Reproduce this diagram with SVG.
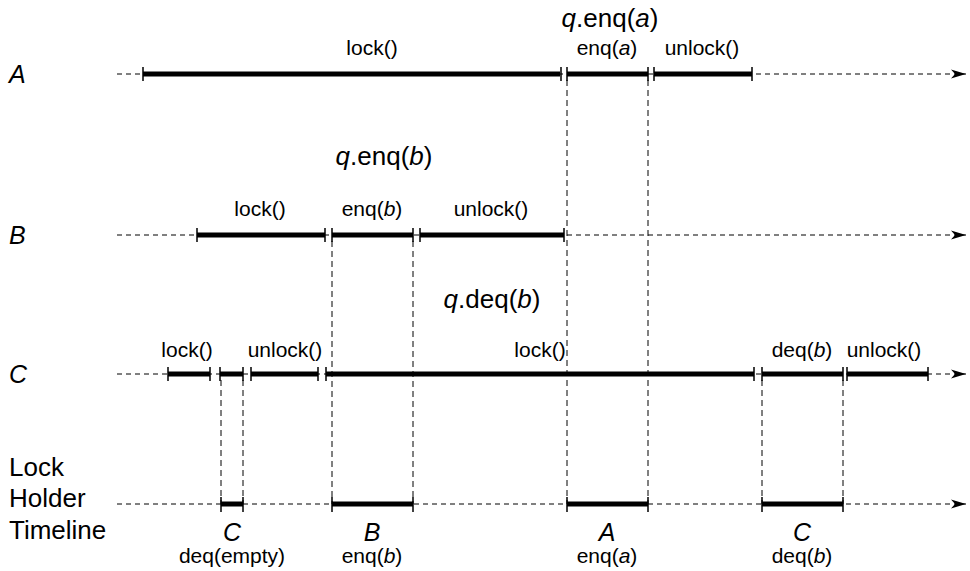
<svg xmlns="http://www.w3.org/2000/svg" width="970" height="571" viewBox="0 0 970 571">
<defs>
<marker id="arr" markerWidth="16" markerHeight="12" refX="15" refY="6" orient="auto" markerUnits="userSpaceOnUse">
<path d="M0,1.5 L15,6 L0,10.5 L4,6 z" fill="#000"/>
</marker>
<style>
text{font-family:"Liberation Sans",Arial,sans-serif;fill:#000}
.lbl{font-size:21px;text-anchor:middle}
.big{font-size:26px;text-anchor:middle}
.row{font-size:25px;font-style:italic}
.side{font-size:26px}
.bot{font-size:25px;font-style:italic;text-anchor:middle}
.base{stroke:#000;stroke-width:1;stroke-dasharray:5,4;fill:none}
.vd{stroke:#000;stroke-width:1;stroke-dasharray:6,4;fill:none}
.seg{stroke:#000;stroke-width:5;fill:none}
.tick{stroke:#000;stroke-width:1.5;fill:none}
</style>
</defs>
<g id="connectors">
<line class="base" x1="117" y1="74" x2="966" y2="74" marker-end="url(#arr)"/>
<line class="base" x1="117" y1="235" x2="966" y2="235" marker-end="url(#arr)"/>
<line class="base" x1="117" y1="374" x2="966" y2="374" marker-end="url(#arr)"/>
<line class="base" x1="117" y1="504" x2="966" y2="504" marker-end="url(#arr)"/>
<line class="vd" x1="567" y1="80" x2="567" y2="504"/>
<line class="vd" x1="648" y1="80" x2="648" y2="504"/>
<line class="vd" x1="332" y1="241" x2="332" y2="504"/>
<line class="vd" x1="413" y1="241" x2="413" y2="504"/>
<line class="vd" x1="221" y1="380" x2="221" y2="504"/>
<line class="vd" x1="243" y1="380" x2="243" y2="504"/>
<line class="vd" x1="762" y1="380" x2="762" y2="504"/>
<line class="vd" x1="843" y1="380" x2="843" y2="504"/>
</g>
<g id="rowA">
<text class="row" x="9" y="83">A</text>
<path class="seg" d="M143,74H560M567,74H648M654,74H752"/>
<path class="tick" d="M143,67V81M561,67V81M567,67V81M648,67V81M654,67V81M752,67V81"/>
<text class="lbl" x="372" y="55">lock()</text>
<text class="lbl" x="607" y="55">enq(<tspan font-style="italic">a</tspan>)</text>
<text class="lbl" x="702" y="55">unlock()</text>
<text class="big" x="610" y="27"><tspan font-style="italic">q</tspan>.enq(<tspan font-style="italic">a</tspan>)</text>
</g>
<g id="rowB">
<text class="row" x="9" y="244">B</text>
<path class="seg" d="M197,235H325M332,235H413M420,235H564"/>
<path class="tick" d="M197,228V242M325,228V242M332,228V242M413,228V242M420,228V242M564,228V242"/>
<text class="lbl" x="260" y="216">lock()</text>
<text class="lbl" x="372" y="216">enq(<tspan font-style="italic">b</tspan>)</text>
<text class="lbl" x="491" y="216">unlock()</text>
<text class="big" x="384" y="165"><tspan font-style="italic">q</tspan>.enq(<tspan font-style="italic">b</tspan>)</text>
</g>
<g id="rowC">
<text class="row" x="9" y="383">C</text>
<path class="seg" d="M168,374H210M220,374H243M251,374H318M326,374H754M762,374H843M847,374H928"/>
<path class="tick" d="M168,367V381M210,367V381M220,367V381M243,367V381M251,367V381M318,367V381M326,367V381M754,367V381M762,367V381M843,367V381M847,367V381M928,367V381"/>
<text class="lbl" x="187" y="357">lock()</text>
<text class="lbl" x="285" y="357">unlock()</text>
<text class="lbl" x="540" y="357">lock()</text>
<text class="lbl" x="802" y="357">deq(<tspan font-style="italic">b</tspan>)</text>
<text class="lbl" x="884" y="357">unlock()</text>
<text class="big" x="492" y="308"><tspan font-style="italic">q</tspan>.deq(<tspan font-style="italic">b</tspan>)</text>
</g>
<g id="lockHolder">
<text class="side" x="9" y="476">Lock</text>
<text class="side" x="9" y="507">Holder</text>
<text class="side" x="9" y="539">Timeline</text>
<path class="seg" d="M221,504H243M332,504H413M567,504H648M762,504H843"/>
<path class="tick" d="M221,497V512M243,497V512M332,497V512M413,497V512M567,497V512M648,497V512M762,497V512M843,497V512"/>
<text class="bot" x="232" y="541">C</text>
<text class="lbl" x="232" y="563">deq(empty)</text>
<text class="bot" x="372" y="541">B</text>
<text class="lbl" x="372" y="563">enq(<tspan font-style="italic">b</tspan>)</text>
<text class="bot" x="607" y="541">A</text>
<text class="lbl" x="607" y="563">enq(<tspan font-style="italic">a</tspan>)</text>
<text class="bot" x="802" y="541">C</text>
<text class="lbl" x="802" y="563">deq(<tspan font-style="italic">b</tspan>)</text>
</g>
</svg>
